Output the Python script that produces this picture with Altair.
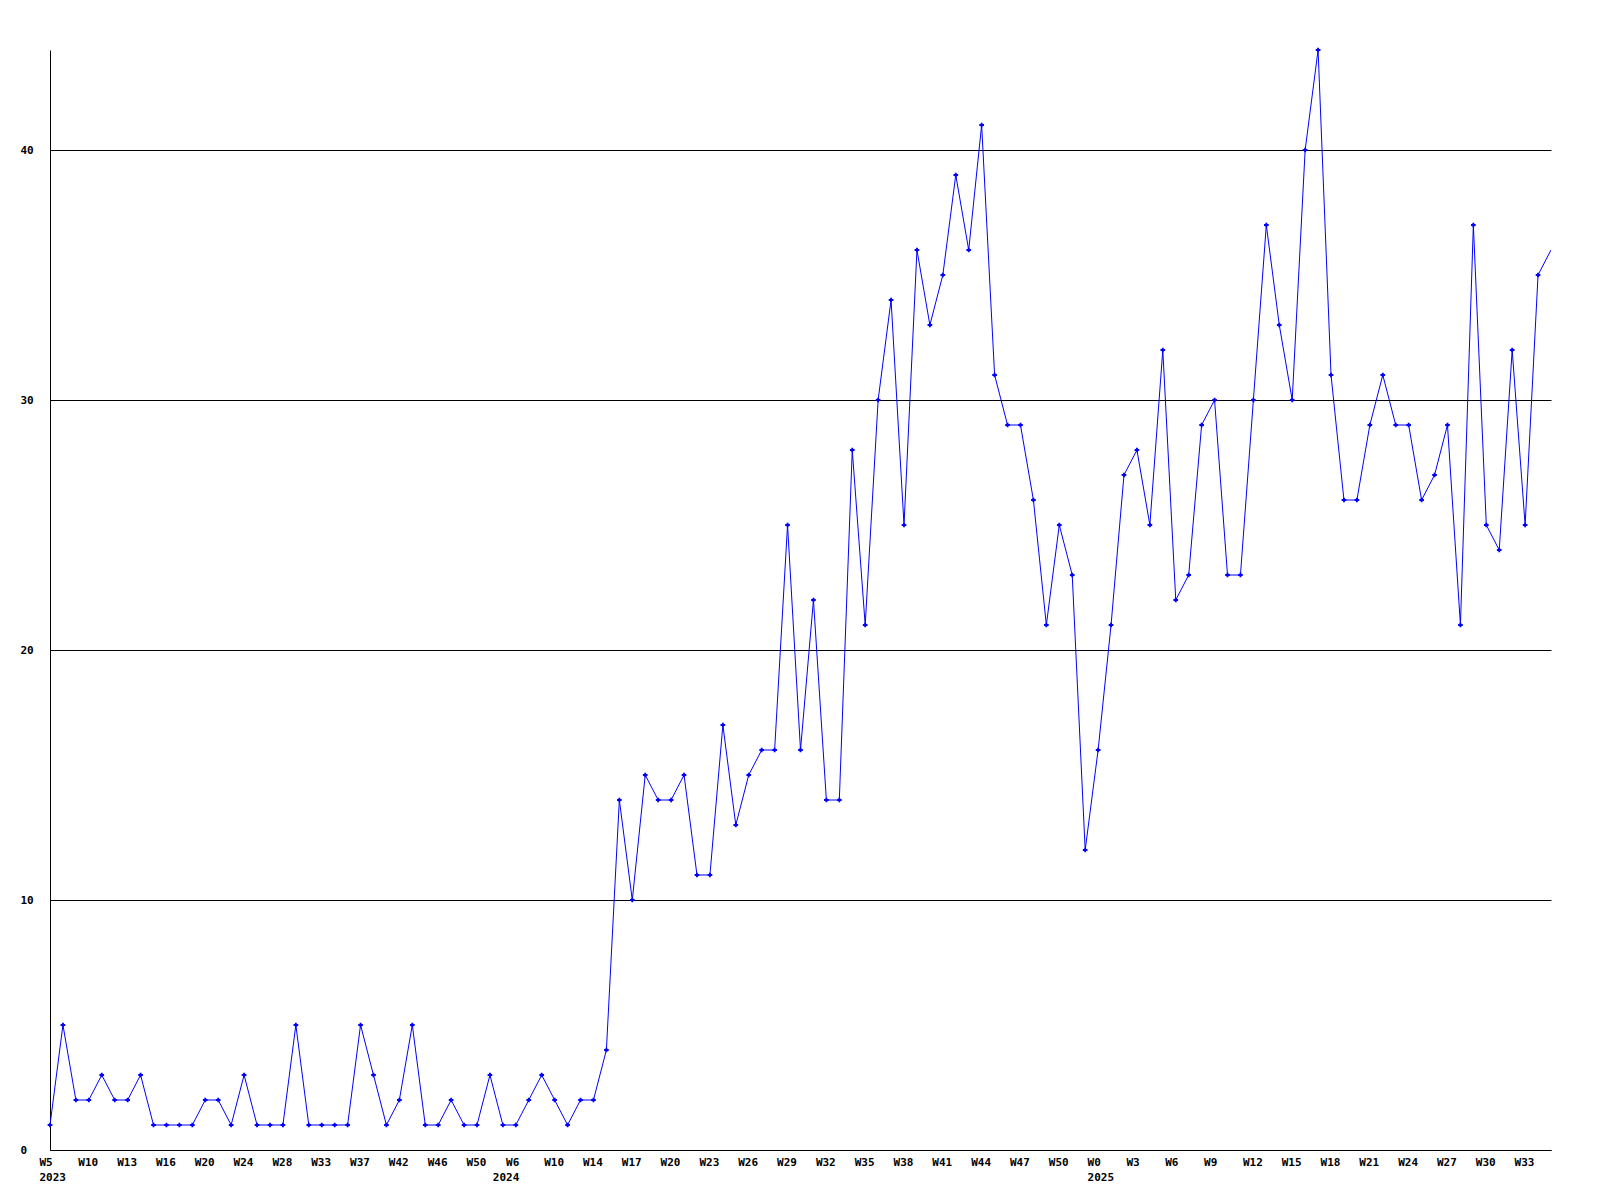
import json
import altair as alt
import pandas as pd

values = [1, 5, 2, 2, 3, 2, 2, 3, 1, 1, 1, 1, 2, 2, 1, 3, 1, 1, 1, 5,
          1, 1, 1, 1, 5, 3, 1, 2, 5, 1, 1, 2, 1, 1, 3, 1, 1, 2, 3, 2,
          1, 2, 2, 4, 14, 10, 15, 14, 14, 15, 11, 11, 17, 13, 15, 16, 16, 25, 16, 22,
          14, 14, 28, 21, 30, 34, 25, 36, 33, 35, 39, 36, 41, 31, 29, 29, 26, 21, 25, 23,
          12, 16, 21, 27, 28, 25, 32, 22, 23, 29, 30, 23, 23, 30, 37, 33, 30, 40, 44, 31,
          26, 26, 29, 31, 29, 29, 26, 27, 29, 21, 37, 25, 24, 32, 25, 35, 36]

tick_weeks = ["W5", "W10", "W13", "W16", "W20", "W24", "W28", "W33", "W37", "W42",
              "W46", "W50", "W6", "W10", "W14", "W17", "W20", "W23", "W26", "W29",
              "W32", "W35", "W38", "W41", "W44", "W47", "W50", "W0", "W3", "W6",
              "W9", "W12", "W15", "W18", "W21", "W24", "W27", "W30", "W33"]
tick_years = {0: "2023", 12: "2024", 27: "2025"}
right_aligned_ticks = [12]
y_ticks = [0, 10, 20, 30, 40]

tick_step = 3
tick_positions = [i * tick_step for i in range(len(tick_weeks))]
tick_labels = [[w, tick_years[k]] if k in tick_years else [w] for k, w in enumerate(tick_weeks)]

df = pd.DataFrame({"i": list(range(len(values))), "v": values})
n = len(values)

font = "DejaVu Sans Mono"
right_test = " || ".join(f"datum.value == {k * tick_step}" for k in right_aligned_ticks)

x_enc = alt.X("i:Q",
              scale=alt.Scale(domain=[0, n - 1], nice=False, zero=False),
              axis=alt.Axis(values=tick_positions,
                            labelExpr=f"{json.dumps(tick_labels)}[round(datum.value / {tick_step})]",
                            grid=False, ticks=False, domain=True, domainColor="black",
                            domainWidth=1,
                            labelAlign={"condition": {"test": right_test, "value": "right"}, "value": "left"},
                            labelOffset={"condition": {"test": right_test, "value": 3}, "value": -11},
                            labelBaseline="top", labelPadding=6, labelLineHeight=15,
                            labelFont=font, labelFontWeight="bold", labelFontSize=11,
                            labelColor="black", labelOverlap=False, labelFlush=False,
                            title=None))
y_enc = alt.Y("v:Q",
              scale=alt.Scale(domain=[0, 44], nice=False),
              axis=alt.Axis(values=y_ticks, grid=True, gridColor="black", gridOpacity=1,
                            gridWidth=1, ticks=False, domain=True, domainColor="black",
                            domainWidth=1, labelAlign="left", labelPadding=30,
                            labelBaseline="middle",
                            labelFont=font, labelFontWeight="bold", labelFontSize=11,
                            labelColor="black", title=None))

base = alt.Chart(df)
line = base.mark_line(color="#0000ff", strokeWidth=1, clip=True).encode(x=x_enc, y=y_enc)
pts = base.transform_filter(f"datum.i < {n - 1}").mark_point(
    shape="cross", filled=True, color="#0000ff", size=22, opacity=1).encode(x=x_enc, y=y_enc)

chart = (line + pts).properties(
    width=1501, height=1100,
    autosize=alt.AutoSizeParams(type="none"),
    padding={"left": 42, "top": 42, "right": 41, "bottom": 42},
).configure(background="white", view=alt.ViewConfig(stroke=None))

chart.save("out.html", embed_options={"renderer": "svg", "actions": False})
